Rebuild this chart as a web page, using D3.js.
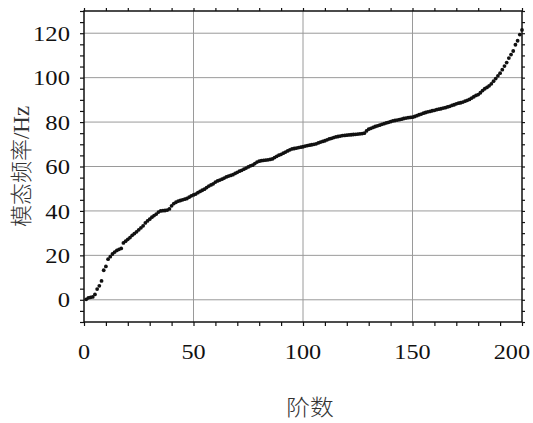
<!DOCTYPE html>
<html>
<head>
<meta charset="utf-8">
<script src="https://cdn.jsdelivr.net/npm/d3@7"></script>
<style>
  html, body { margin: 0; padding: 0; background: #fff; }
  svg { display: block; }
  .num { font-family: "Liberation Serif", "Times New Roman", serif; }
  .cjk { font-family: "Noto Sans CJK SC", sans-serif; }
</style>
</head>
<body>
<svg id="chart" width="533" height="423"></svg>
<script>
// Modal frequency (Hz) for mode orders 1..200
const modeFreq = [
  0.2, 0.9, 1.1, 1.3, 2.4, 4.8, 6.3, 8.5, 13.3, 15.0,
  18.3, 19.4, 20.6, 21.5, 22.2, 22.7, 23.1, 25.6, 26.4, 27.2,
  28.0, 29.0, 29.8, 30.6, 31.5, 32.4, 33.3, 34.6, 35.5, 36.3,
  37.2, 37.9, 38.6, 39.5, 40.0, 40.1, 40.2, 40.4, 40.9, 42.3,
  43.3, 43.9, 44.4, 44.7, 45.0, 45.3, 45.6, 46.2, 46.8, 47.2,
  47.6, 48.2, 48.8, 49.3, 49.8, 50.5, 51.2, 51.7, 52.2, 53.0,
  53.5, 53.9, 54.3, 54.8, 55.3, 55.7, 56.0, 56.3, 56.9, 57.4,
  57.9, 58.3, 58.8, 59.3, 59.8, 60.3, 60.6, 61.3, 62.0, 62.4,
  62.6, 62.8, 62.9, 63.0, 63.2, 63.4, 64.0, 64.6, 65.1, 65.5,
  66.0, 66.5, 67.0, 67.5, 67.9, 68.1, 68.3, 68.5, 68.7, 68.9,
  69.2, 69.4, 69.6, 69.8, 70.0, 70.2, 70.6, 71.0, 71.3, 71.6,
  72.0, 72.4, 72.7, 73.0, 73.3, 73.5, 73.7, 73.9, 74.0, 74.1,
  74.2, 74.3, 74.4, 74.5, 74.6, 74.7, 74.8, 75.0, 76.0, 76.8,
  77.2, 77.6, 78.0, 78.3, 78.6, 79.0, 79.3, 79.6, 79.9, 80.2,
  80.5, 80.7, 80.9, 81.1, 81.3, 81.6, 81.8, 82.0, 82.1, 82.2,
  82.5, 82.9, 83.3, 83.6, 84.0, 84.3, 84.6, 84.8, 85.1, 85.3,
  85.6, 85.8, 86.0, 86.3, 86.5, 86.8, 87.1, 87.5, 87.8, 88.2,
  88.5, 88.7, 89.0, 89.4, 89.8, 90.2, 90.8, 91.4, 92.0, 92.4,
  93.2, 94.2, 95.0, 95.6, 96.3, 97.2, 98.4, 99.6, 100.8, 102.0,
  103.6, 105.2, 106.8, 108.8, 110.4, 112.0, 114.8, 116.6, 119.4, 121.5
];
const modeOrder = modeFreq.map((_, i) => i + 1);

const xTicks = [0, 50, 100, 150, 200];
const yTicks = [0, 20, 40, 60, 80, 100, 120];
const xMinor = d3.range(0, 201, 10);
const yMinor = d3.range(-10, 131, 5);
const xTitle = "阶数";
const yTitleCjk = "模态频率";
const yTitleUnit = "/Hz";

const svg = d3.select("#chart");
const plotL = 84, plotR = 522, plotT = 11, plotB = 322;

const x = d3.scaleLinear().domain([0, 200]).range([plotL, plotR]);
const y = d3.scaleLinear().domain([-10, 130]).range([plotB, plotT]);

// grid
const grid = svg.append("g").attr("stroke", "#9a9a9a").attr("stroke-width", 1);
grid.selectAll("line.gx").data(xTicks.filter(d => d > 0 && d < 200)).join("line")
  .attr("x1", d => x(d)).attr("x2", d => x(d)).attr("y1", plotT).attr("y2", plotB);
grid.selectAll("line.gy").data(yTicks).join("line")
  .attr("y1", d => y(d)).attr("y2", d => y(d)).attr("x1", plotL).attr("x2", plotR);

// tick marks on all four sides (outward)
function tickAxis(axis, transform) {
  const g = svg.append("g").attr("transform", transform).call(axis);
  g.select(".domain").remove();
  g.selectAll("text").remove();
  g.selectAll("line").attr("stroke", "#111").attr("stroke-width", 1.2);
  return g;
}
tickAxis(d3.axisBottom(x).tickValues(xMinor).tickSize(4), `translate(0,${plotB})`);
tickAxis(d3.axisTop(x).tickValues(xMinor).tickSize(3), `translate(0,${plotT})`);
tickAxis(d3.axisLeft(y).tickValues(yMinor).tickSize(4), `translate(${plotL},0)`);
tickAxis(d3.axisRight(y).tickValues(yMinor).tickSize(3), `translate(${plotR},0)`);

// frame
svg.append("rect")
  .attr("x", plotL).attr("y", plotT)
  .attr("width", plotR - plotL).attr("height", plotB - plotT)
  .attr("fill", "none").attr("stroke", "#111").attr("stroke-width", 1.5);

// tick labels (slightly widened serif digits)
svg.append("g").selectAll("text").data(xTicks).join("text")
  .attr("class", "num")
  .attr("transform", d => `translate(${d === 200 ? 530 : x(d)},359) scale(1.1,1)`)
  .attr("text-anchor", d => d === 200 ? "end" : "middle")
  .attr("font-size", 22).attr("fill", "#111")
  .text(d => d);

svg.append("g").selectAll("text").data(yTicks).join("text")
  .attr("class", "num")
  .attr("transform", d => `translate(70,${y(d)}) scale(1.12,1)`)
  .attr("dy", "0.35em")
  .attr("text-anchor", "end")
  .attr("font-size", 22).attr("fill", "#111")
  .text(d => d);

// axis titles
svg.append("text")
  .attr("class", "cjk")
  .attr("transform", "translate(310,415) scale(1.08,1)")
  .attr("text-anchor", "middle")
  .attr("font-size", 22).attr("font-weight", 300).attr("fill", "#333")
  .text(xTitle);

const yt = svg.append("text")
  .attr("transform", `translate(29,${(plotT + plotB) / 2}) rotate(-90)`)
  .attr("text-anchor", "middle")
  .attr("font-size", 22).attr("fill", "#333");
yt.append("tspan").attr("class", "cjk").attr("font-weight", 300).text(yTitleCjk);
yt.append("tspan").attr("class", "num").attr("font-size", 23).text(yTitleUnit);

// data points
svg.append("g").selectAll("circle").data(modeOrder).join("circle")
  .attr("cx", d => x(d))
  .attr("cy", (d, i) => y(modeFreq[i]))
  .attr("r", 1.9)
  .attr("fill", "#111");
</script>
</body>
</html>
